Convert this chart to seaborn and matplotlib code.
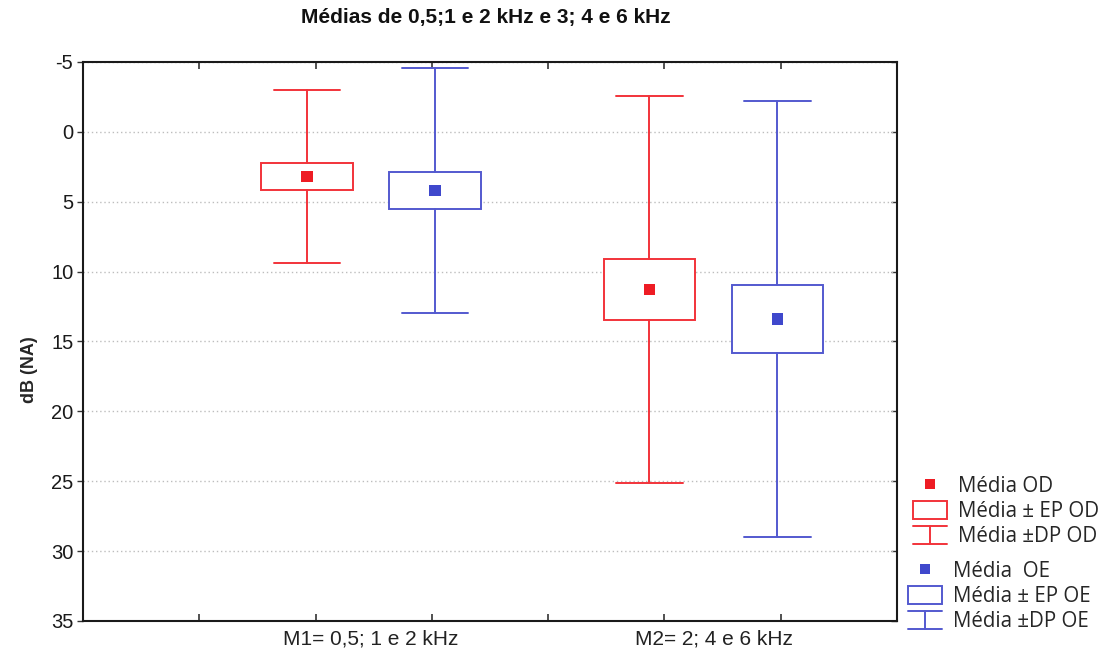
import matplotlib
matplotlib.use("Agg")
import matplotlib.pyplot as plt
import seaborn as sns
import numpy as np
import pandas as pd
from matplotlib.lines import Line2D
from matplotlib.patches import Patch
from matplotlib.legend_handler import HandlerBase
from matplotlib.ticker import FixedLocator

# ---------------- data ----------------
categories = ["M1= 0,5; 1 e 2 kHz", "M2= 2; 4 e 6 kHz"]
ears = ["OD", "OE"]
mean_od = [3.2, 11.28]
se_od = [0.955, 2.17]
sd_od = [6.2, 13.85]
mean_oe = [4.2, 13.4]
se_oe = [1.34, 2.42]
sd_oe = [8.77, 15.6]
yticks = [-5, 0, 5, 10, 15, 20, 25, 30, 35]
title = "Médias de 0,5;1 e 2 kHz e 3; 4 e 6 kHz"
ylabel = "dB (NA)"
legend_od = ["Média OD", "Média ± EP OD", "Média ±DP OD"]
legend_oe = ["Média  OE", "Média ± EP OE", "Média ±DP OE"]

RED = "#ee1c24"
BLUE = "#3f48cc"
RED_LINE = "#f2333a"
BLUE_LINE = "#5359cf"

sns.set_theme(style="white")
plt.rcParams["font.family"] = ["Liberation Sans", "DejaVu Sans"]

W, H = 1111, 652
fig = plt.figure(figsize=(W / 100, H / 100), dpi=100)
ax = fig.add_axes([83 / W, 31 / H, 814 / W, 559 / H])

pos = np.arange(len(categories))
offsets = {"OD": -0.187, "OE": 0.187}
box_w = 0.268
cap_w = 0.195

series = {
    "OD": (mean_od, se_od, sd_od, RED_LINE),
    "OE": (mean_oe, se_oe, sd_oe, BLUE_LINE),
}

rows = []
for ear, (means, ses, sds, lc) in series.items():
    stats = []
    for m, se, sd in zip(means, ses, sds):
        stats.append(dict(med=m, q1=m - se, q3=m + se, whislo=m - sd, whishi=m + sd, fliers=[]))
    ax.bxp(stats, positions=pos + offsets[ear], widths=box_w, capwidths=cap_w,
           patch_artist=True, showfliers=False, manage_ticks=False,
           boxprops=dict(facecolor="white", edgecolor=lc, linewidth=1.4),
           whiskerprops=dict(color=lc, linewidth=1.4),
           capprops=dict(color=lc, linewidth=1.4),
           medianprops=dict(linewidth=0))
    for i, m in enumerate(means):
        rows.append(dict(x=pos[i] + offsets[ear], mean=m, ear=ear))

df = pd.DataFrame(rows)
sns.scatterplot(data=df, x="x", y="mean", hue="ear", palette={"OD": RED, "OE": BLUE},
                marker="s", s=70, linewidth=0, legend=False, ax=ax, zorder=5)

xmin, xmax = -0.841, 1.536
ax.set_xlim(xmin, xmax)
ax.set_ylim(35, -5)
ax.set_yticks(yticks)
ax.set_yticklabels([str(t) for t in yticks], fontsize=14.5, color="#1a1a1a")
ax.set_xticks(pos)
ax.set_xticklabels(categories, fontsize=15, color="#222222")
ax.set_xlabel("")
ax.set_ylabel(ylabel, fontsize=13, fontweight="bold")
ax.yaxis.set_label_coords(-0.055, 0.45)

ax.set_axisbelow(True)
ax.yaxis.grid(True, linestyle=(0, (1, 2)), color="#bdbdbd", linewidth=1.0)
ax.xaxis.grid(False)

ax.tick_params(axis="x", which="major", length=0, pad=6)
ax.xaxis.set_minor_locator(FixedLocator(np.linspace(xmin, xmax, 8)[1:-1]))
ax.tick_params(axis="x", which="minor", direction="in", length=5, width=1.2,
               top=True, bottom=True, color="#333333")
ax.tick_params(axis="y", which="major", direction="out", length=4, width=1.0,
               left=True, right=False, pad=3, color="#333333")
sec = ax.secondary_yaxis("right")
sec.set_yticks(yticks)
sec.tick_params(direction="in", length=4, width=1.0, labelright=False, color="#333333")
sec.spines["right"].set_visible(False)

for sp in ax.spines.values():
    sp.set_color("#1a1a1a")
    sp.set_linewidth(1.5)
    sp.set_visible(True)

fig.text(486 / W, 1 - 18 / H, title, ha="center", va="center",
         fontsize=15, fontweight="bold", color="#111111")


# ---------------- legend ----------------
class HandlerIBeam(HandlerBase):
    def create_artists(self, legend, orig_handle, xdescent, ydescent, width, height, fontsize, trans):
        c = orig_handle.get_color()
        lw = orig_handle.get_linewidth()
        x0, x1 = -xdescent, -xdescent + width
        y0, y1 = -ydescent, -ydescent + height
        xm = (x0 + x1) / 2
        arts = [Line2D([x0, x1], [y1, y1], color=c, lw=lw),
                Line2D([xm, xm], [y0, y1], color=c, lw=lw),
                Line2D([x0, x1], [y0, y0], color=c, lw=lw)]
        for a in arts:
            a.set_transform(trans)
        return arts


def make_handles(mcolor, lcolor):
    h_mean = Line2D([], [], linestyle="none", marker="s", markersize=7.5,
                    markerfacecolor=mcolor, markeredgewidth=0)
    h_box = Patch(facecolor="white", edgecolor=lcolor, linewidth=1.4)
    h_sd = Line2D([], [], color=lcolor, linewidth=1.4)
    return [h_mean, h_box, h_sd], {h_sd: HandlerIBeam()}


leg_font = dict(family=["Open Sans", "DejaVu Sans"], size=14.8)
hs, hm = make_handles(RED, RED_LINE)
leg1 = fig.legend(hs, legend_od, handler_map=hm, loc="upper left",
                  bbox_to_anchor=(913 / W, 1 - 476 / H), frameon=False,
                  borderpad=0, borderaxespad=0, handlelength=1.65, handleheight=0.95,
                  handletextpad=0.55, labelspacing=0.2, prop=leg_font)
hs2, hm2 = make_handles(BLUE, BLUE_LINE)
leg2 = fig.legend(hs2, legend_oe, handler_map=hm2, loc="upper left",
                  bbox_to_anchor=(908 / W, 1 - 561 / H), frameon=False,
                  borderpad=0, borderaxespad=0, handlelength=1.65, handleheight=0.95,
                  handletextpad=0.55, labelspacing=0.2, prop=leg_font)

fig.savefig("out.png", dpi=100)
